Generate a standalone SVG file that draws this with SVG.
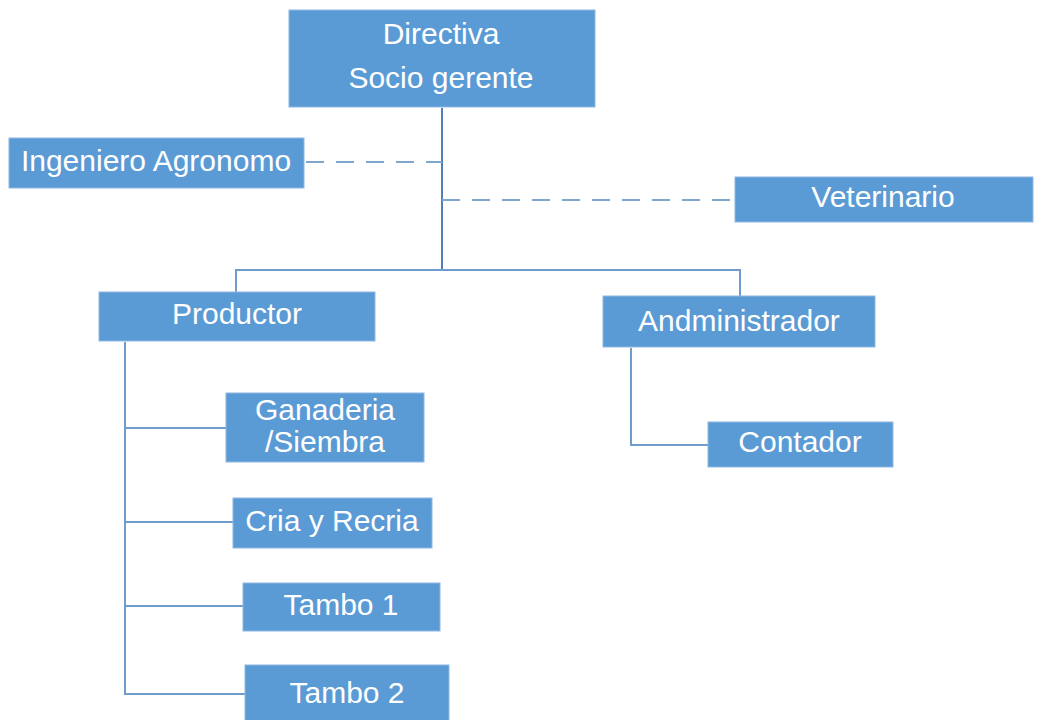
<svg xmlns="http://www.w3.org/2000/svg" width="1038" height="720" viewBox="0 0 1038 720">
<style>
.box{fill:#5b9bd5;stroke:#8fb8e2;stroke-width:1}
.t{font-family:"Liberation Sans",Arial,sans-serif;font-size:30px;fill:#ffffff;text-anchor:middle}
.ln{fill:none;stroke:#6f9ccc;stroke-width:2}
.dk{fill:none;stroke:#4f7fb3;stroke-width:2}
.ds{fill:none;stroke:#7ea6cf;stroke-width:2;stroke-dasharray:18,12}
</style>
<rect width="1038" height="720" fill="#ffffff"/>
<g id="connectors">
<path class="dk" d="M442 108 V270"/>
<path class="ds" d="M306 162 H442"/>
<path class="ds" d="M442 200 H735"/>
<path class="ln" d="M236 292 V270 H740 V296"/>
<path class="ln" d="M125 342 V694 H245"/>
<path class="ln" d="M125 428 H226 M125 522 H233 M125 606 H243"/>
<path class="ln" d="M631 348 V445 H708"/>
</g>
<g id="directiva"><rect class="box" x="289" y="10" width="306" height="97"/><text class="t" x="441" y="44">Directiva</text><text class="t" x="441" y="88">Socio gerente</text></g>
<g id="ingeniero"><rect class="box" x="9" y="138" width="295" height="50"/><text class="t" x="156" y="171">Ingeniero Agronomo</text></g>
<g id="veterinario"><rect class="box" x="735" y="177" width="298" height="45"/><text class="t" x="883" y="207">Veterinario</text></g>
<g id="productor"><rect class="box" x="99" y="292" width="276" height="49"/><text class="t" x="237" y="324">Productor</text></g>
<g id="administrador"><rect class="box" x="603" y="296" width="272" height="51"/><text class="t" x="739" y="331">Andministrador</text></g>
<g id="ganaderia"><rect class="box" x="226" y="393" width="198" height="69"/><text class="t" x="325" y="420">Ganaderia</text><text class="t" x="325" y="452">/Siembra</text></g>
<g id="cria"><rect class="box" x="233" y="498" width="199" height="50"/><text class="t" x="332" y="531">Cria y Recria</text></g>
<g id="tambo1"><rect class="box" x="243" y="583" width="197" height="48"/><text class="t" x="341" y="615">Tambo 1</text></g>
<g id="tambo2"><rect class="box" x="245" y="665" width="204" height="56"/><text class="t" x="347" y="703">Tambo 2</text></g>
<g id="contador"><rect class="box" x="708" y="422" width="185" height="45"/><text class="t" x="800" y="452">Contador</text></g>
</svg>
